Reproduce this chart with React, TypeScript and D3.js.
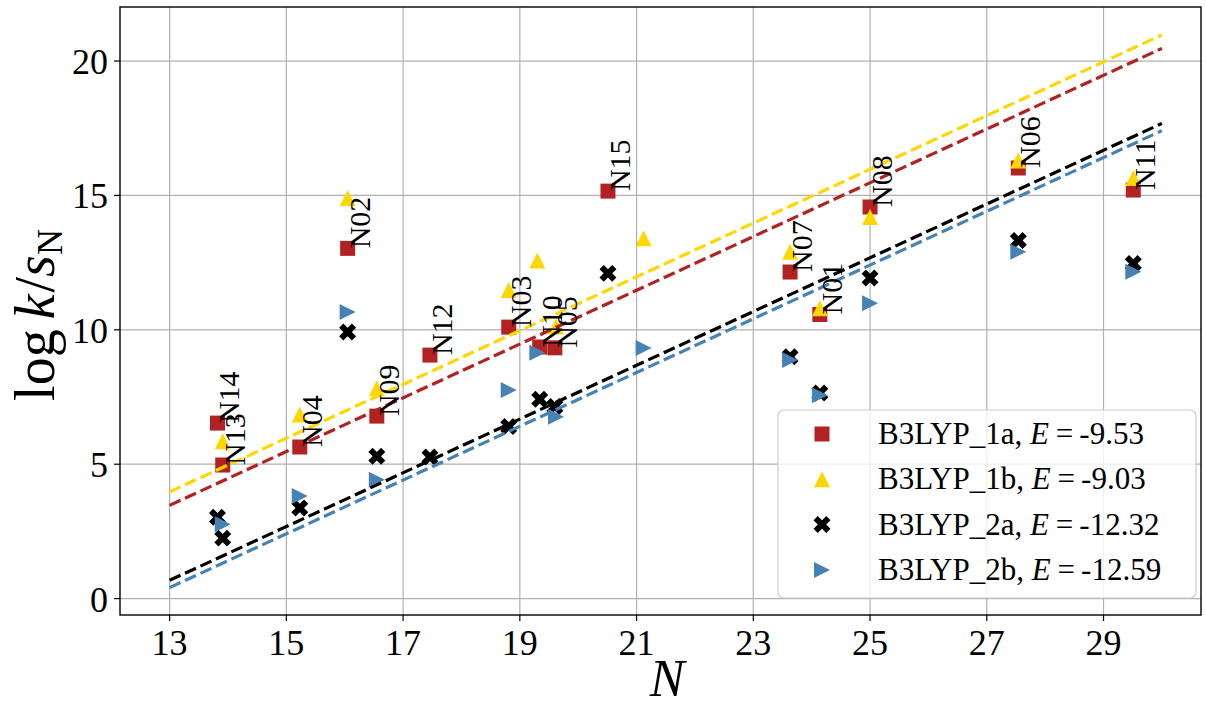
import React from "react";
import * as d3 from "d3";

// series "a": one point per molecule, labelled at the 1a square
const molLabels = ["N13", "N14", "N04", "N02", "N09", "N12", "N03", "N10", "N05", "N15", "N07", "N01", "N08", "N06", "N11"];
const nA = [13.91, 13.82, 15.23, 16.05, 16.55, 17.46, 18.81, 19.34, 19.6, 20.51, 23.63, 24.14, 25.0, 27.54, 29.51];
const logk1a = [4.97, 6.53, 5.64, 13.03, 6.79, 9.06, 10.1, 9.36, 9.33, 15.16, 12.15, 10.57, 14.57, 16.02, 15.2];
const logk2a = [2.25, 3.03, 3.37, 9.92, 5.3, 5.27, 6.4, 7.42, 7.15, 12.1, 9.0, 7.65, 11.93, 13.32, 12.47];

// series "b"
const nB = [13.91, 15.23, 16.05, 16.55, 18.81, 19.3, 19.62, 21.12, 23.63, 24.14, 25.0, 27.54, 29.51];
const logk1b = [5.85, 6.85, 14.9, 7.83, 11.48, 12.58, 10.12, 13.41, 12.9, 10.8, 14.2, 16.3, 15.65];
const logk2b = [2.77, 3.82, 10.66, 4.42, 7.76, 9.15, 6.77, 9.32, 8.88, 7.57, 10.99, 12.9, 12.16];

const seriesNames = ["B3LYP_1a", "B3LYP_1b", "B3LYP_2a", "B3LYP_2b"];
const energies = [-9.53, -9.03, -12.32, -12.59];
const colors = ["#b22222", "#ffd700", "#000000", "#4682b4"];
const fitRange = [13, 30];

const xTicks = [13, 15, 17, 19, 21, 23, 25, 27, 29];
const yTicks = [0, 5, 10, 15, 20];

const W = 1206;
const H = 710;
const left = 120, right = 1201, top = 7, bottom = 615;
const FONT = "Liberation Serif";

// marker shapes
const squarePath = (s: number) => `M${-s / 2},${-s / 2}h${s}v${s}h${-s}Z`;
const triUpPath = (r: number) => `M0,${-r}L${r},${r}L${-r},${r}Z`;
const triRightPath = (r: number) => `M${r},0L${-r},${-r}L${-r},${r}Z`;
const xPath = (L: number) => {
  const a = L / 6, h = L / 2;
  const pts = [[-a, -h], [a, -h], [a, -a], [h, -a], [h, a], [a, a], [a, h], [-a, h], [-a, a], [-h, a], [-h, -a], [-a, -a]];
  const rot = pts.map(([px, py]) => [(px - py) / Math.SQRT2, (px + py) / Math.SQRT2]);
  return "M" + rot.map((p) => p.map((v) => v.toFixed(2)).join(",")).join("L") + "Z";
};
const markers = [squarePath(15), triUpPath(8), xPath(18), triRightPath(8)];

const App = () => {
  const x = d3.scaleLinear().domain([12.15, 30.67]).range([left, right]);
  const y = d3.scaleLinear().domain([-0.61, 22.01]).range([bottom, top]);

  const series = [
    { ns: nA, vals: logk1a },
    { ns: nB, vals: logk1b },
    { ns: nA, vals: logk2a },
    { ns: nB, vals: logk2b },
  ];

  const line = d3
    .line<number[]>()
    .x((d) => x(d[0]))
    .y((d) => y(d[1]));

  const legX = right - 423;
  const legY = bottom - 205;

  return (
    <svg
      width={W}
      height={H}
      style={{ position: "absolute", left: 0, top: 0, background: "#fff", fontFamily: FONT }}
    >
      <defs>
        <clipPath id="plot">
          <rect x={left} y={top} width={right - left} height={bottom - top} />
        </clipPath>
      </defs>
      {/* grid */}
      <g stroke="#b0b0b0" strokeWidth={1.2}>
        {xTicks.map((t) => (
          <line key={"gx" + t} x1={x(t)} x2={x(t)} y1={top} y2={bottom} />
        ))}
        {yTicks.map((t) => (
          <line key={"gy" + t} x1={left} x2={right} y1={y(t)} y2={y(t)} />
        ))}
      </g>

      {/* points */}
      <g clipPath="url(#plot)">
        {series.map((s, i) => (
          <g key={"s" + i} fill={colors[i]}>
            {s.vals.map((v, j) => (
              <path key={j} d={markers[i]} transform={`translate(${x(s.ns[j])},${y(v)})`} />
            ))}
          </g>
        ))}
        {/* fit lines: log k = N + E */}
        {energies.map((e, i) => (
          <path
            key={"f" + i}
            d={line(fitRange.map((n) => [n, n + e])) || ""}
            fill="none"
            stroke={colors[i]}
            strokeWidth={3.2}
            strokeDasharray="12 5"
          />
        ))}
      </g>

      {/* molecule labels */}
      <g fontSize={30} fill="#000">
        {molLabels.map((lab, j) => (
          <text
            key={lab}
            transform={`translate(${x(nA[j])},${y(logk1a[j])}) rotate(-90)`}
            x={0}
            y={22}
          >
            {lab}
          </text>
        ))}
      </g>

      {/* frame */}
      <rect x={left} y={top} width={right - left} height={bottom - top} fill="none" stroke="#000" strokeWidth={1.4} />

      {/* ticks */}
      <g stroke="#000" strokeWidth={1.2}>
        {xTicks.map((t) => (
          <line key={"tx" + t} x1={x(t)} x2={x(t)} y1={bottom} y2={bottom + 6} />
        ))}
        {yTicks.map((t) => (
          <line key={"ty" + t} x1={left - 6} x2={left} y1={y(t)} y2={y(t)} />
        ))}
      </g>
      <g fontSize={36} fill="#000">
        {xTicks.map((t) => (
          <text key={"lx" + t} x={x(t)} y={655} textAnchor="middle">
            {t}
          </text>
        ))}
        {yTicks.map((t) => (
          <text key={"ly" + t} x={108} y={y(t) + 13} textAnchor="end">
            {t}
          </text>
        ))}
      </g>

      {/* axis labels */}
      <text x={667} y={696} fontSize={52} fontStyle="italic" textAnchor="middle">
        N
      </text>
      <text transform={`translate(54,${(top + bottom) / 2 + 4}) rotate(-90)`} fontSize={56} textAnchor="middle">
        log
        <tspan dx={10} fontStyle="italic">k</tspan>
        <tspan dx={2}>/</tspan>
        <tspan fontStyle="italic">s</tspan>
        <tspan fontSize={36} dy={8}>N</tspan>
      </text>

      {/* legend */}
      <g>
        <rect x={legX} y={legY} width={418} height={188} rx={6} fill="#fff" fillOpacity={0.8} stroke="#cccccc" strokeWidth={1.2} />
        {seriesNames.map((name, i) => {
          const cy = legY + 24 + i * 45.3;
          return (
            <g key={"lg" + i}>
              <path d={markers[i]} fill={colors[i]} transform={`translate(${legX + 44},${cy})`} />
              <text x={legX + 100} y={cy + 10} fontSize={31} fill="#000">
                {name + ", "}
                <tspan fontStyle="italic">E</tspan>
                <tspan dx={7}>=</tspan>
                <tspan dx={6}>{"-" + Math.abs(energies[i]).toFixed(2)}</tspan>
              </text>
            </g>
          );
        })}
      </g>
    </svg>
  );
};

export default App;
